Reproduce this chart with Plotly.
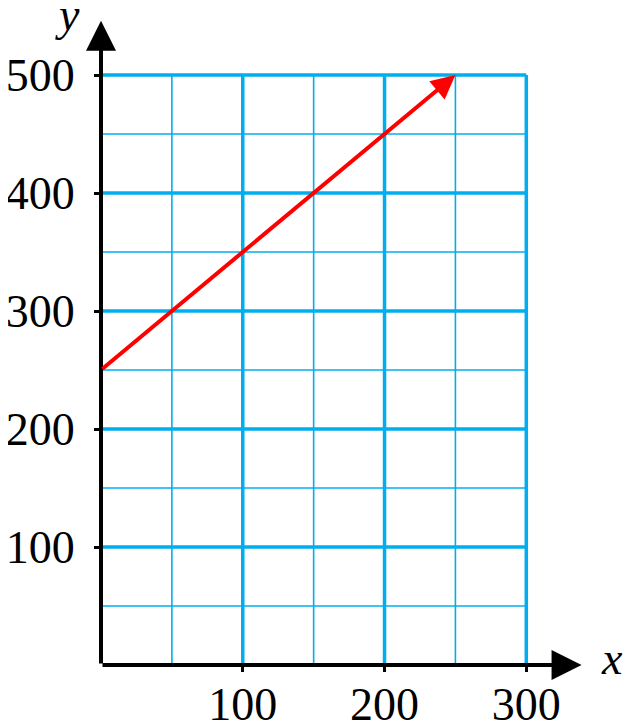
import plotly.graph_objects as go

# data
x_major = [100, 200, 300]
x_minor = [50, 150, 250]
y_major = [100, 200, 300, 400, 500]
y_minor = [50, 150, 250, 350, 450]
x_grid_max = 300
y_grid_max = 500
line_start = (0, 250)
line_end = (250, 500)
x_ticklabels = ["100", "200", "300"]
y_ticklabels = ["100", "200", "300", "400", "500"]

BLUE = "#00AEEF"
FONT = "Liberation Serif"

def vlines(xs):
    X, Y = [], []
    for v in xs:
        X += [v, v, None]
        Y += [0, y_grid_max, None]
    return X, Y

def hlines(ys):
    X, Y = [], []
    for v in ys:
        X += [0, x_grid_max, None]
        Y += [v, v, None]
    return X, Y

fig = go.Figure()
for xs, w in ((x_minor, 1.6), (x_major, 3.5)):
    X, Y = vlines(xs)
    fig.add_trace(go.Scatter(x=X, y=Y, mode="lines", line=dict(color=BLUE, width=w),
                             hoverinfo="skip", showlegend=False, cliponaxis=False))
for ys, w in ((y_minor, 1.6), (y_major, 3.5)):
    X, Y = hlines(ys)
    fig.add_trace(go.Scatter(x=X, y=Y, mode="lines", line=dict(color=BLUE, width=w),
                             hoverinfo="skip", showlegend=False, cliponaxis=False))

annos = []
# axes arrows
annos.append(dict(x=339, y=0, ax=0, ay=0, xref="x", yref="y", axref="x", ayref="y",
                  showarrow=True, arrowhead=2, arrowsize=1.5, arrowwidth=4, arrowcolor="black", text=""))
annos.append(dict(x=0, y=546, ax=0, ay=0, xref="x", yref="y", axref="x", ayref="y",
                  showarrow=True, arrowhead=2, arrowsize=1.5, arrowwidth=4, arrowcolor="black", text=""))
# red arrow
annos.append(dict(x=line_end[0], y=line_end[1], ax=line_start[0], ay=line_start[1],
                  xref="x", yref="y", axref="x", ayref="y",
                  showarrow=True, arrowhead=2, arrowsize=1.2, arrowwidth=4, arrowcolor="red", text=""))
# axis labels
annos.append(dict(x=1.061, y=0.01, xref="paper", yref="paper", text="<i>x</i>", showarrow=False,
                  font=dict(family=FONT, size=46, color="black"), xanchor="center", yanchor="middle"))
annos.append(dict(x=-0.0685, y=1.003, xref="paper", yref="paper", text="<i>y</i>", showarrow=False,
                  font=dict(family=FONT, size=46, color="black"), xanchor="center", yanchor="middle"))

fig.update_layout(
    width=625, height=717,
    margin=dict(l=93, r=50, t=8, b=60, autoexpand=False),
    paper_bgcolor="white", plot_bgcolor="white",
    annotations=annos,
    xaxis=dict(range=[0, 340], showgrid=False, zeroline=False, showline=False, automargin=False,
               tickvals=x_major, ticktext=x_ticklabels, ticks="outside", ticklen=6,
               tickwidth=2.5, tickcolor="black", ticklabelstandoff=-7,
               tickfont=dict(family=FONT, size=46, color="black")),
    yaxis=dict(range=[0, 550], showgrid=False, zeroline=False, showline=False, automargin=False,
               tickvals=y_major, ticktext=y_ticklabels, ticks="outside", ticklen=6,
               tickwidth=2.5, tickcolor="black", ticklabelstandoff=10,
               tickfont=dict(family=FONT, size=46, color="black")),
)
fig.write_html("out.html")
